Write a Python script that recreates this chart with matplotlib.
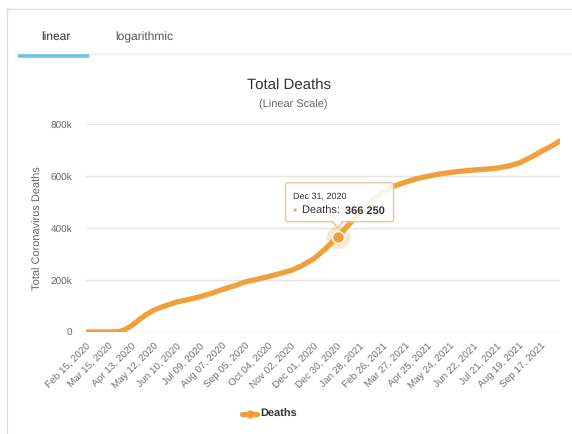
import matplotlib
matplotlib.use("Agg")
import matplotlib.pyplot as plt
from matplotlib.patches import FancyBboxPatch, Polygon
from matplotlib.lines import Line2D
import pandas as pd

# ---------------- data ----------------
dates = ["2020-02-15", "2020-03-15", "2020-03-25", "2020-03-30", "2020-04-05",
         "2020-04-13", "2020-04-22", "2020-05-01", "2020-05-12", "2020-05-25",
         "2020-06-10", "2020-06-25", "2020-07-09", "2020-07-25", "2020-08-07",
         "2020-08-20", "2020-09-05", "2020-09-20", "2020-10-04", "2020-10-19",
         "2020-11-02", "2020-11-15", "2020-12-01", "2020-12-15", "2020-12-31",
         "2021-01-14", "2021-01-28", "2021-02-12", "2021-02-26", "2021-03-12",
         "2021-03-27", "2021-04-10", "2021-04-25", "2021-05-10", "2021-05-24",
         "2021-06-08", "2021-06-22", "2021-07-07", "2021-07-21", "2021-08-05",
         "2021-08-19", "2021-09-03", "2021-09-17", "2021-10-01", "2021-10-10"]
deaths = [0, 100, 1000, 3000, 10000,
          24000, 46000, 66000, 85000, 100000,
          116000, 125000, 136000, 150000, 164000,
          176000, 193000, 203000, 213000, 225000,
          237000, 254000, 282000, 318000, 366250,
          412000, 457000, 502000, 537000, 560000,
          576000, 589000, 599000, 608000, 614000,
          619000, 623000, 626000, 630000, 638000,
          650000, 672000, 696000, 718000, 735000]
tick_labels = ["Feb 15, 2020", "Mar 15, 2020", "Apr 13, 2020", "May 12, 2020",
               "Jun 10, 2020", "Jul 09, 2020", "Aug 07, 2020", "Sep 05, 2020",
               "Oct 04, 2020", "Nov 02, 2020", "Dec 01, 2020", "Dec 30, 2020",
               "Jan 28, 2021", "Feb 26, 2021", "Mar 27, 2021", "Apr 25, 2021",
               "May 24, 2021", "Jun 22, 2021", "Jul 21, 2021", "Aug 19, 2021",
               "Sep 17, 2021"]
y_ticks = [0, 200000, 400000, 600000, 800000]
y_tick_labels = ["0", "200k", "400k", "600k", "800k"]
highlight_date = "2020-12-31"
highlight_label = "Dec 31, 2020"
highlight_value_text = "366 250"
series_name = "Deaths"

# ---------------- style ----------------
plt.rcParams['font.family'] = ['Liberation Sans', 'DejaVu Sans']
plt.rcParams['text.hinting'] = 'no_hinting'
plt.rcParams['text.hinting_factor'] = 1
W, H = 572, 434
ORANGE = "#F0A03A"
GRAY_TXT = "#666666"

fig = plt.figure(figsize=(W / 100, H / 100), dpi=100)
fig.patch.set_facecolor("white")

def fx(x):
    return x / W

def fy(y):
    return 1 - y / H

# card border
fig.add_artist(Line2D([fx(7), fx(7)], [fy(9), fy(434)], color="#DDDDDD", lw=1))
fig.add_artist(Line2D([fx(7), fx(572)], [fy(9), fy(9)], color="#DDDDDD", lw=1))
# tab bar
fig.add_artist(Line2D([fx(18), fx(572)], [fy(54), fy(54)], color="#EEEEEE", lw=1))
fig.add_artist(Line2D([fx(18), fx(89)], [fy(55.5), fy(55.5)], color="#6CC3EA", lw=2.6,
                      solid_capstyle="butt"))
fig.text(fx(56), fy(37), "linear", ha="center", va="center", fontsize=8.3, color="#333333")
fig.text(fx(144), fy(37), "logarithmic", ha="center", va="center", fontsize=8.3, color="#555555")

# titles
fig.text(fx(289), fy(86), "Total Deaths", ha="center", va="center", fontsize=10.5, color="#333333")
fig.text(fx(293), fy(105), "(Linear Scale)", ha="center", va="center", fontsize=7.8, color="#666666")

# axes
x0, x1, ytop, ybot = 86, 560, 124, 332
ax = fig.add_axes([fx(x0), fy(ybot), (x1 - x0) / W, (ybot - ytop) / H])
ax.set_facecolor("none")

start = pd.Timestamp(dates[0])
xd = [(pd.Timestamp(d) - start).days for d in dates]
xt = [(pd.Timestamp(t) - start).days for t in tick_labels]

ax.plot(xd, deaths, color=ORANGE, lw=3.8, solid_joinstyle="round", solid_capstyle="round",
        zorder=3)
ax.set_xlim(0, xd[-1])
ax.set_ylim(0, 800000)
ax.set_yticks(y_ticks)
ax.set_yticklabels(y_tick_labels)
ax.set_xticks(xt)
ax.set_xticklabels(tick_labels, rotation=45, ha="right", rotation_mode="anchor")
ax.tick_params(axis="x", length=0, pad=7, labelsize=7.4, labelcolor="#707070")
ax.tick_params(axis="y", length=0, pad=10, labelsize=7.4, labelcolor=GRAY_TXT)
ax.grid(axis="y", color="#E6E6E6", lw=1)
ax.set_axisbelow(True)
for s in ax.spines.values():
    s.set_visible(False)
ax.set_ylabel("Total Coronavirus Deaths", fontsize=7.8, color=GRAY_TXT, labelpad=5)

# highlighted point + tooltip
hx = (pd.Timestamp(highlight_date) - start).days
hy = deaths[dates.index(highlight_date)]
ax.plot([hx], [hy], "o", ms=17, color=ORANGE, alpha=0.25, mec="none", zorder=4)
ax.plot([hx], [hy], "o", ms=8.5, color=ORANGE, mec="white", mew=1, zorder=5)

fig.canvas.draw()
px, py_ = ax.transData.transform((hx, hy))
mx, my = px, H - py_  # marker pixel (top-left origin)

bx0, bx1 = mx - 52, mx + 56
by0, by1 = my - 54, my - 15
box = FancyBboxPatch((fx(bx0), fy(by1)), fx(bx1 - bx0), (by1 - by0) / H,
                     boxstyle="round,pad=0,rounding_size=0.005",
                     transform=fig.transFigure, fc="white", ec="#EBC084", lw=1,
                     alpha=0.88, zorder=10)
fig.add_artist(box)
tri = Polygon([(fx(mx - 5), fy(by1 - 0.5)), (fx(mx + 5), fy(by1 - 0.5)), (fx(mx), fy(by1 + 6))],
              closed=True, transform=fig.transFigure, fc="white", ec="none", zorder=11)
fig.add_artist(tri)
fig.add_artist(Line2D([fx(mx - 5), fx(mx), fx(mx + 5)], [fy(by1), fy(by1 + 6), fy(by1)],
                      color="#EBC084", lw=1, zorder=12))
fig.text(fx(mx - 45), fy(my - 40), highlight_label, ha="left", va="center",
         fontsize=6.8, color="#333333", zorder=13)
fig.text(fx(mx - 43), fy(my - 26), "\u25CF", ha="center", va="center",
         fontsize=5, color=ORANGE, zorder=13)
fig.text(fx(mx - 36), fy(my - 26), series_name + ": ", ha="left", va="center",
         fontsize=8, color="#333333", zorder=13)
fig.text(fx(mx + 7), fy(my - 26), highlight_value_text, ha="left", va="center",
         fontsize=8, color="#333333", fontweight="bold", zorder=13)

# legend
fig.add_artist(Line2D([fx(242), fx(257)], [fy(414), fy(414)], color=ORANGE, lw=3.8,
                      solid_capstyle="round"))
fig.add_artist(Line2D([fx(249.5)], [fy(414)], marker="o", ms=5, color=ORANGE))
fig.text(fx(260), fy(414), series_name, ha="left", va="center", fontsize=7.6,
         fontweight="bold", color="#333333")

fig.savefig("out.png", dpi=100)
